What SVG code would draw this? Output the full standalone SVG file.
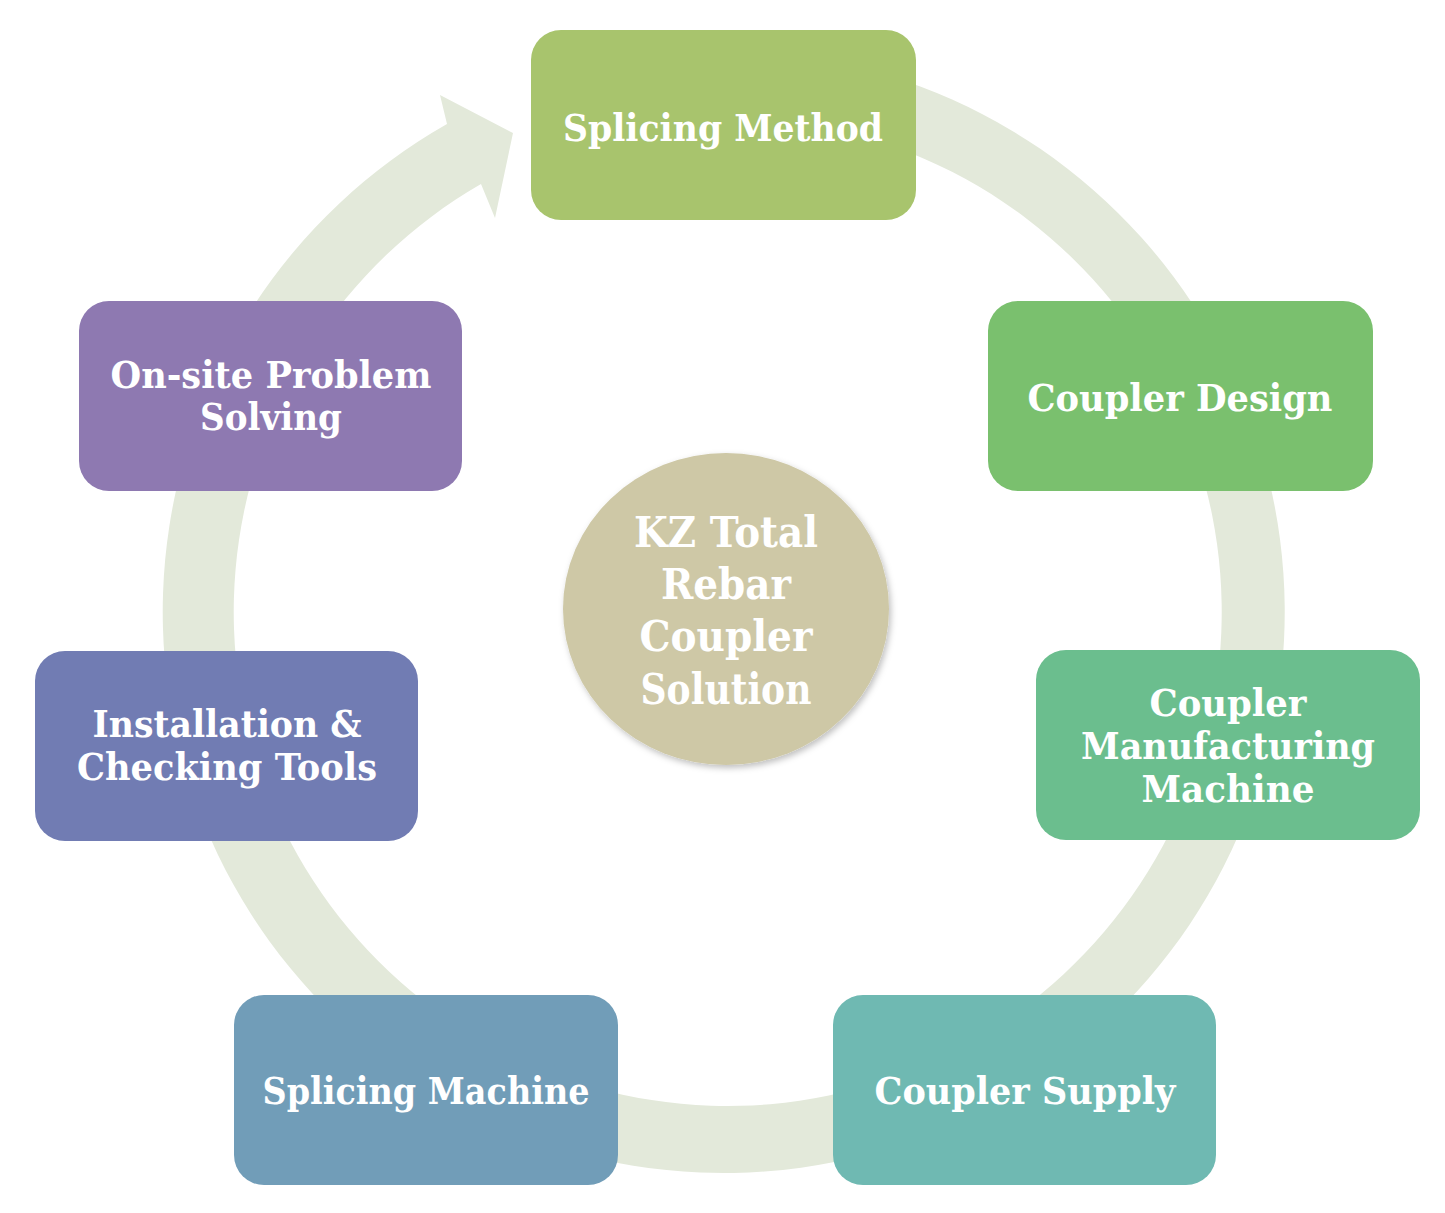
<svg xmlns="http://www.w3.org/2000/svg" width="1445" height="1213" viewBox="0 0 1445 1213">
<style>
.box{stroke:none}
.t{font-family:"DejaVu Serif","Liberation Serif",serif;font-weight:bold;fill:#ffffff;text-anchor:middle;font-size:38px}
.c{font-size:42px}
</style>
<defs>
<filter id="sh" x="-20%" y="-20%" width="140%" height="140%">
<feDropShadow dx="2" dy="3" stdDeviation="3" flood-color="#000" flood-opacity="0.25"/>
</filter>
</defs>
<rect width="1445" height="1213" fill="#ffffff"/>
<g id="connectors">
<path d="M723,51 A561,561 0 1 1 447,124 L440,95 L513,133 L495,218 L481,184 A494,494 0 1 0 723,118 Z" fill="#E3E9DA"/>
</g>
<g id="center">
<ellipse cx="726" cy="609" rx="163" ry="156" fill="#CEC8A6" filter="url(#sh)"/>
<text class="t c" x="726" y="547" textLength="184" lengthAdjust="spacingAndGlyphs">KZ Total</text>
<text class="t c" x="726" y="599" textLength="130" lengthAdjust="spacingAndGlyphs">Rebar</text>
<text class="t c" x="726" y="651" textLength="173" lengthAdjust="spacingAndGlyphs">Coupler</text>
<text class="t c" x="726" y="704" textLength="171" lengthAdjust="spacingAndGlyphs">Solution</text>
</g>
<g id="splicing-method">
<rect class="box" x="531" y="30" width="385" height="190" rx="30" fill="#A8C46D"/>
<text class="t" x="723" y="141" textLength="320" lengthAdjust="spacingAndGlyphs">Splicing Method</text>
</g>
<g id="coupler-design">
<rect class="box" x="988" y="301" width="385" height="190" rx="30" fill="#7AC06E"/>
<text class="t" x="1180" y="411" textLength="305" lengthAdjust="spacingAndGlyphs">Coupler Design</text>
</g>
<g id="coupler-manufacturing-machine">
<rect class="box" x="1036" y="650" width="384" height="190" rx="30" fill="#6BBE8E"/>
<text class="t" x="1228" y="716" textLength="157" lengthAdjust="spacingAndGlyphs">Coupler</text>
<text class="t" x="1228" y="759" textLength="294" lengthAdjust="spacingAndGlyphs">Manufacturing</text>
<text class="t" x="1228" y="802" textLength="173" lengthAdjust="spacingAndGlyphs">Machine</text>
</g>
<g id="coupler-supply">
<rect class="box" x="833" y="995" width="383" height="190" rx="30" fill="#6FB9B2"/>
<text class="t" x="1025" y="1104" textLength="301" lengthAdjust="spacingAndGlyphs">Coupler Supply</text>
</g>
<g id="splicing-machine">
<rect class="box" x="234" y="995" width="384" height="190" rx="30" fill="#719DB8"/>
<text class="t" x="426" y="1104" textLength="327" lengthAdjust="spacingAndGlyphs">Splicing Machine</text>
</g>
<g id="installation-checking-tools">
<rect class="box" x="35" y="651" width="383" height="190" rx="30" fill="#717CB3"/>
<text class="t" x="227" y="737" textLength="269" lengthAdjust="spacingAndGlyphs">Installation &amp;</text>
<text class="t" x="227" y="780" textLength="300" lengthAdjust="spacingAndGlyphs">Checking Tools</text>
</g>
<g id="on-site-problem-solving">
<rect class="box" x="79" y="301" width="383" height="190" rx="30" fill="#8E79B1"/>
<text class="t" x="271" y="388" textLength="321" lengthAdjust="spacingAndGlyphs">On-site Problem</text>
<text class="t" x="271" y="430" textLength="142" lengthAdjust="spacingAndGlyphs">Solving</text>
</g>
</svg>
